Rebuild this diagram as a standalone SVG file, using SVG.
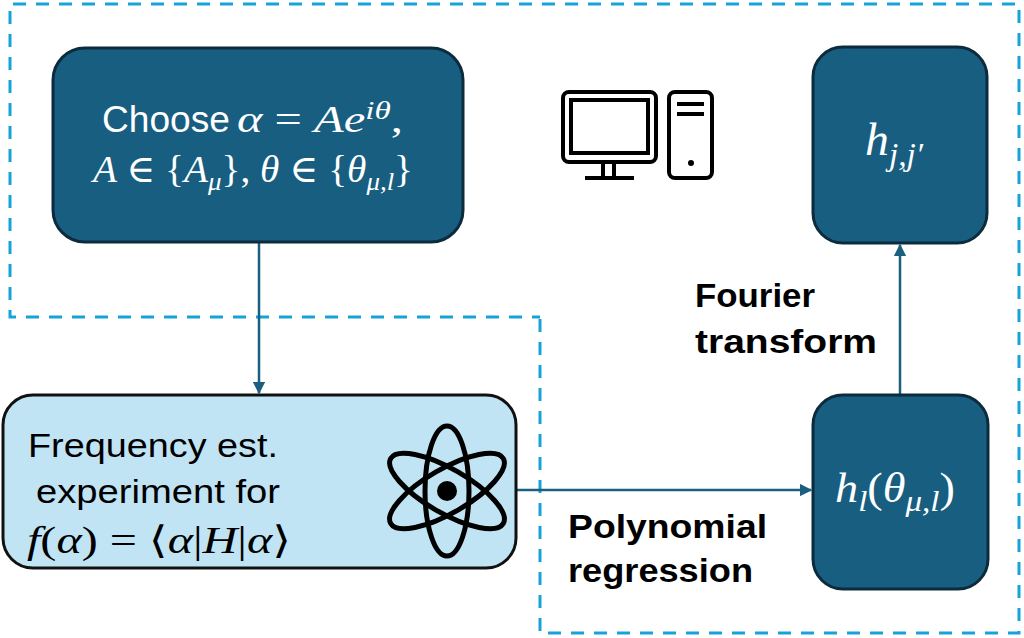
<svg xmlns="http://www.w3.org/2000/svg" width="1024" height="638" viewBox="0 0 1024 638">
<style>
.dark{fill:#175E80;stroke:#0C2B3C;stroke-width:3}
.light{fill:#C1E4F5;stroke:#111;stroke-width:3}
.sans{font-family:"Liberation Sans",Arial,sans-serif}
.math{font-family:"Liberation Serif","DejaVu Serif",serif;font-style:italic}
.up{font-style:normal}
.w{fill:#fff}
.k{fill:#000}
.lbl{font-family:"Liberation Sans",Arial,sans-serif;font-weight:bold;font-size:34px;fill:#000}
.conn{stroke:#1A5E80;stroke-width:2.5;fill:none}
.icon{fill:none;stroke:#000;stroke-width:4}
</style>
<defs>
<marker id="ah" viewBox="0 0 10 10" refX="9" refY="5" markerWidth="5" markerHeight="5" orient="auto" markerUnits="strokeWidth">
<path d="M0,0 L10,5 L0,10 z" fill="#1A5E80"/>
</marker>
</defs>
<path id="dashed" d="M540,319 L540,633 L1019,633 L1019,4 L10,4 L10,317 L540,317" fill="none" stroke="#17A3DA" stroke-width="3" stroke-dasharray="13,10"/>
<g id="connectors">
<line class="conn" x1="259" y1="242" x2="259" y2="393" marker-end="url(#ah)"/>
<line class="conn" x1="516" y1="490" x2="811" y2="490" marker-end="url(#ah)"/>
<line class="conn" x1="900" y1="395" x2="900" y2="245" marker-end="url(#ah)"/>
</g>
<g id="choose">
<rect class="dark" x="53" y="48" width="410" height="194" rx="32"/>
<text x="102" y="132" font-size="36" class="w sans" textLength="128" lengthAdjust="spacingAndGlyphs">Choose</text>
<text x="237" y="132" font-size="38" class="w math" textLength="166" lengthAdjust="spacingAndGlyphs">α <tspan class="up">=</tspan> Ae<tspan baseline-shift="50%" font-size="26">iθ</tspan><tspan class="up">,</tspan></text>
<text x="93" y="182" font-size="38" class="w math" textLength="320" lengthAdjust="spacingAndGlyphs">A <tspan class="up">∈ {</tspan>A<tspan baseline-shift="-30%" font-size="26">μ</tspan><tspan class="up">}, </tspan>θ <tspan class="up">∈ {</tspan>θ<tspan baseline-shift="-30%" font-size="26">μ,l</tspan><tspan class="up">}</tspan></text>
</g>
<g id="computer">
<rect class="icon" x="563" y="92" width="93" height="70" rx="6"/>
<rect class="icon" x="571" y="100" width="77" height="53"/>
<line class="icon" x1="603" y1="162" x2="603" y2="177"/>
<line class="icon" x1="614" y1="162" x2="614" y2="177"/>
<line class="icon" x1="585" y1="178" x2="634" y2="178"/>
<rect class="icon" x="669" y="92" width="43" height="86" rx="6"/>
<line class="icon" x1="677" y1="104" x2="704" y2="104"/>
<line class="icon" x1="677" y1="114" x2="704" y2="114"/>
<circle cx="691" cy="163" r="3" fill="#000"/>
</g>
<g id="hjj">
<rect class="dark" x="813" y="47" width="174" height="196" rx="30"/>
<text x="865" y="155" font-size="46" class="w math" textLength="58" lengthAdjust="spacingAndGlyphs">h<tspan baseline-shift="-30%" font-size="32">j,j′</tspan></text>
</g>
<g id="experiment">
<rect class="light" x="3" y="395" width="513" height="173" rx="30"/>
<text x="28" y="457" font-size="34" class="k sans" textLength="250" lengthAdjust="spacingAndGlyphs">Frequency est.</text>
<text x="36" y="503" font-size="34" class="k sans" textLength="244" lengthAdjust="spacingAndGlyphs">experiment for</text>
<text x="27" y="553" font-size="38" class="k math" textLength="264" lengthAdjust="spacingAndGlyphs">f<tspan class="up">(</tspan>α<tspan class="up">) = ⟨</tspan>α<tspan class="up">|</tspan>H<tspan class="up">|</tspan>α<tspan class="up">⟩</tspan></text>
<g fill="none" stroke="#000" stroke-width="5">
<ellipse cx="447" cy="491" rx="22" ry="65"/>
<ellipse cx="447" cy="491" rx="22" ry="65" transform="rotate(60 447 491)"/>
<ellipse cx="447" cy="491" rx="22" ry="65" transform="rotate(-60 447 491)"/>
</g>
<circle cx="447" cy="491" r="10" fill="#000"/>
</g>
<g id="hl">
<rect class="dark" x="813" y="395" width="175" height="194" rx="30"/>
<text x="835" y="502" font-size="42" class="w math" textLength="120" lengthAdjust="spacingAndGlyphs">h<tspan baseline-shift="-30%" font-size="30">l</tspan><tspan class="up">(</tspan>θ<tspan baseline-shift="-30%" font-size="30">μ,l</tspan><tspan class="up">)</tspan></text>
</g>
<g id="labels">
<text class="lbl" x="695" y="307" textLength="120" lengthAdjust="spacingAndGlyphs">Fourier</text>
<text class="lbl" x="695" y="353" textLength="182" lengthAdjust="spacingAndGlyphs">transform</text>
<text class="lbl" x="568" y="538" textLength="199" lengthAdjust="spacingAndGlyphs">Polynomial</text>
<text class="lbl" x="568" y="582" textLength="185" lengthAdjust="spacingAndGlyphs">regression</text>
</g>
</svg>
